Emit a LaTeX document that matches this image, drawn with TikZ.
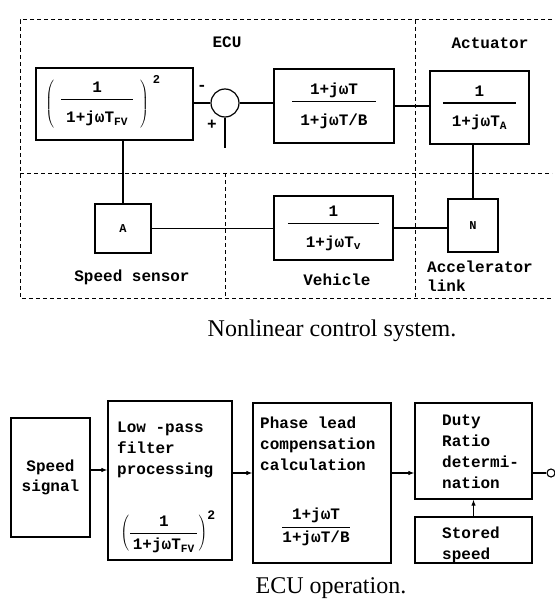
\documentclass[tikz,border=0pt]{standalone}
\usepackage{fontspec}
\setmainfont{Liberation Serif}
\setmonofont{Liberation Mono}
\newfontfamily\capfont{Liberation Serif}
\usetikzlibrary{arrows.meta}

% fraction with a long bar and widely spaced terms (optional: bar overhang)
\newcommand{\spreadfrac}[3][8pt]{%
  {\setlength\tabcolsep{#1}\setlength\arrayrulewidth{1.2pt}%
   \begin{tabular}{c}#2\\\hline\rule{0pt}{23pt}#3\end{tabular}}}
% compact fraction
\newcommand{\ctrlfrac}[2]{\displaystyle\frac{\mbox{#1}}{\mbox{#2}}}

\begin{document}
\begin{tikzpicture}[x=1pt,y=-1pt,
  blk/.style={draw,line width=1.2pt,inner sep=0pt,
              font=\ttfamily\bfseries\fontsize{16}{20}\selectfont},
  txt/.style={inner sep=0pt,font=\ttfamily\bfseries\fontsize{16}{21}\selectfont},
  small/.style={font=\ttfamily\bfseries\fontsize{12}{14}\selectfont},
  frm/.style={line width=1pt,dash pattern=on 4pt off 3pt},
  wire/.style={line width=1.1pt},
  flow/.style={line width=1.1pt,-{Latex[length=6pt,width=4.5pt]}},
  figcap/.style={inner sep=0pt,font=\capfont\fontsize{24}{28}\selectfont}]

\useasboundingbox (0,0) rectangle (554,599);

% ---------------- nonlinear control system ----------------
% region borders
\draw[frm] (552,20) -- (20,20) -- (20,298) -- (552,298);
\draw[frm] (20,173) -- (552,173);
\draw[frm] (225,173) -- (225,298);
\draw[frm] (415,20) -- (415,298);

\node[txt] (ecu) at (227,42) {ECU};
\node[txt] (actl) at (490,43) {Actuator};

% blocks
\node[blk,minimum width=157pt,minimum height=72pt] (filt) at (114.5,104) {};
\node[blk,draw=none] (filtf) at (103,102)
  {$\left(\hspace{7pt}\spreadfrac[5pt]{1}{1+jωT\textsubscript{FV}}\hspace{7pt}\right)^{\hspace{4pt}\mbox{\fontsize{12}{12}\selectfont 2}}$};
\node[draw,circle,line width=1.2pt,minimum size=28pt,inner sep=0pt] (sum) at (225,103) {};
\node[blk,minimum width=120pt,minimum height=74pt] (lead) at (334,106)
  {\spreadfrac[8pt]{1+jωT}{1+jωT/B}};
\node[blk,minimum width=99pt,minimum height=73pt] (act) at (479.5,107.5)
  {\spreadfrac[9pt]{1}{1+jωT\textsubscript{A}}};
\node[blk,small,minimum width=56pt,minimum height=49pt] (sens) at (123,228.5) {A};
\node[blk,minimum width=119pt,minimum height=64pt] (veh) at (333.5,228)
  {\spreadfrac[18pt]{1}{1+jωT\textsubscript{v}}};
\node[blk,small,minimum width=50pt,minimum height=53pt] (link) at (473,225.5) {N};

\node[txt] (minus) at (202,88) {-};
\node[txt] (plus) at (212,125) {+};
\coordinate (ref) at (225,148);

% signal lines
\draw[wire] (sum.west) -- (sum.west -| filt.east);
\draw[wire] (sum.east) -- (sum.east -| lead.west);
\draw[wire] (sum.south) -- (ref);
\draw[wire] (lead.east) -- (lead.east -| act.west);
\draw[wire] (sens.north) -- (sens.north |- filt.south);
\draw[wire] (sens.east) -- (sens.east -| veh.west);
\draw[wire] (veh.east) -- (veh.east -| link.west);
\draw[wire] (link.north) -- (link.north |- act.south);

\node[txt] (sensl) at (132,277) {Speed sensor};
\node[txt] (vehl) at (337,280) {Vehicle};
\node[txt,anchor=north west,align=left,
      font=\ttfamily\bfseries\fontsize{16}{19}\selectfont] (linkl) at (427,261) {Accelerator\\link};

\node[figcap] (cap1) at (332,331) {Nonlinear control system.};

% ---------------- ECU operation ----------------
\node[blk,minimum width=79pt,minimum height=119pt,align=center] (sig) at (50.5,477.5)
  {Speed\\signal};
\node[blk,minimum width=124pt,minimum height=159pt] (lpf) at (170,480.5) {};
\node[txt,anchor=north west,align=left] (lpft) at (117,422) {Low -pass\\filter\\processing};
\node[txt] (lpff) at (168,532)
  {$\left(\ctrlfrac{1}{\,1+jωT\textsubscript{FV}\,}\right)^{\mbox{\fontsize{13}{13}\selectfont 2}}$};

\node[blk,minimum width=138pt,minimum height=160pt] (calc) at (322,483) {};
\node[txt,anchor=north west,align=left] (calct) at (260,417) {Phase lead\\compensation\\calculation};
\node[txt] (calcf) at (316,527) {$\ctrlfrac{1+jωT}{1+jωT/B}$};

\node[blk,minimum width=117pt,minimum height=96pt] (duty) at (473.5,451) {};
\node[txt,anchor=north west,align=left] (dutyt) at (442,415) {Duty\\Ratio\\determi-\\nation};
\node[blk,minimum width=117pt,minimum height=46pt] (store) at (473.5,540) {};
\node[txt,anchor=north west,align=left] (storet) at (442,527) {Stored\\speed};

\node[draw,circle,line width=1.1pt,minimum size=8pt,inner sep=0pt] (out) at (551,473) {};

\draw[flow] ([yshift=7.5pt]sig.east) -- ([yshift=10.5pt]lpf.west);
\draw[flow] ([yshift=7.5pt]lpf.east) -- ([yshift=10pt]calc.west);
\draw[flow] ([yshift=10pt]calc.east) -- ([yshift=10pt]calc.east -| duty.west);
\draw[flow] (store.north) -- (duty.south);
\draw[wire] ([yshift=-22pt]duty.east) -- (out.west);

\node[figcap] (cap2) at (331,588) {ECU operation.};
\end{tikzpicture}
\end{document}
